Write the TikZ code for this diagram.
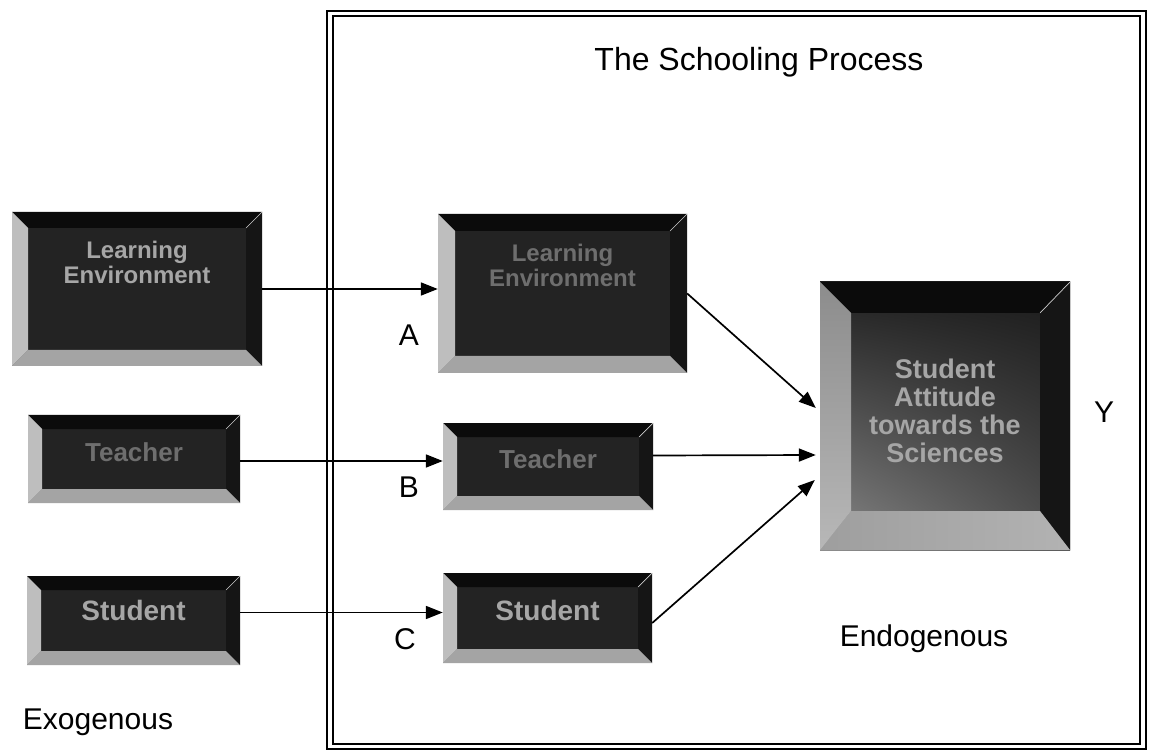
\documentclass[tikz,border=0pt]{standalone}
\usepackage{fontspec}
\setmainfont{Liberation Sans}
\usetikzlibrary{calc,arrows.meta,fit,shadings}
\definecolor{bevtop}{HTML}{0B0B0B}
\definecolor{bevright}{HTML}{151515}
\definecolor{bevleft}{HTML}{BEBEBE}
\definecolor{bevbot}{HTML}{A4A4A4}
\definecolor{bevface}{HTML}{232323}
\definecolor{boxtext}{HTML}{A6A6A6}
\definecolor{dimtext}{HTML}{6E6E6E}

\tikzset{
  lbl/.style={font=\fontsize{30}{33}\selectfont, inner sep=0pt},
  boxtxt/.style={font=\bfseries\fontsize{24}{25}\selectfont, text=boxtext, align=center, inner sep=0pt},
  conn/.style={line width=1.7pt, -{Triangle[length=17pt,width=13pt]}},
  frameline/.style={line width=1.8pt},
}

% #1 name, #2 x1, #3 y1, #4 x2, #5 y2, #6 bevel, #7 text, #8 text options, #9 text offset (down)
\newcommand{\bevbox}[9]{%
  \fill[bevface] (#2,#3) rectangle (#4,#5);
  \fill[bevtop] (#2,#3) -- (#4,#3) -- ({#4-#6},{#3+#6}) -- ({#2+#6},{#3+#6}) -- cycle;
  \fill[bevright] (#4,#3) -- (#4,#5) -- ({#4-#6},{#5-#6}) -- ({#4-#6},{#3+#6}) -- cycle;
  \fill[bevbot] (#2,#5) -- (#4,#5) -- ({#4-#6},{#5-#6}) -- ({#2+#6},{#5-#6}) -- cycle;
  \fill[bevleft] (#2,#3) -- ({#2+#6},{#3+#6}) -- ({#2+#6},{#5-#6}) -- (#2,#5) -- cycle;
  \draw[gray!40, line width=0.7pt] (#4,#3) -- ({#4-#6},{#3+#6});
  \coordinate (#1-a) at (#2,#3);
  \coordinate (#1-b) at (#4,#5);
  \node[fit=(#1-a)(#1-b), inner sep=0pt] (#1) {};
  \node[boxtxt, #8] (#1-t) at ($(#1.center)+(0,#9)$) {#7};
}

\begin{document}
\begin{tikzpicture}[x=1pt,y=-1pt]
\useasboundingbox (0,0) rectangle (1152,751);
\fill[white] (0,0) rectangle (1152,751);

% frame
\draw[frameline] (327,11) rectangle (1146,749);
\draw[frameline] (333,16) rectangle (1140,744);

% exogenous boxes
\bevbox{exoLE}{12}{212}{262}{366}{16}{Learning\\Environment}{}{-27}
\bevbox{exoT}{28}{415}{240}{503}{14}{Teacher}{text=dimtext, font=\bfseries\fontsize{26}{28}\selectfont}{-7}
\bevbox{exoS}{27}{576}{240}{665}{14}{Student}{font=\bfseries\fontsize{28}{30}\selectfont}{-10}

% inner boxes
\bevbox{inLE}{438}{214}{687}{373}{17}{Learning\\Environment}{text=dimtext}{-28}
\bevbox{inT}{443}{423}{653}{510}{14}{Teacher}{text=dimtext, font=\bfseries\fontsize{26}{28}\selectfont}{-7}
\bevbox{inS}{443}{573}{652}{663}{14}{Student}{font=\bfseries\fontsize{28}{30}\selectfont}{-8}

% big box
\shade[upper left=black!88, upper right=black!90, lower left=black!45, lower right=black!70] (820,282) rectangle (1070,550);
\fill[bevtop] (820,282) -- (1070,282) -- (1040,313) -- (851,313) -- cycle;
\fill[bevright] (1070,282) -- (1070,550) -- (1040,511) -- (1040,313) -- cycle;
\shade[left color=black!38, right color=black!30] (820,550) -- (1070,550) -- (1040,511) -- (851,511) -- cycle;
\shade[top color=black!45, bottom color=black!28] (820,282) -- (851,313) -- (851,511) -- (820,550) -- cycle;
\draw[gray!40, line width=0.7pt] (1070,282) -- (1040,313);
\coordinate (big-a) at (820,282);
\coordinate (big-b) at (1070,550);
\node[fit=(big-a)(big-b), inner sep=0pt] (big) {};
\node[boxtxt, font=\bfseries\fontsize{27}{28}\selectfont] (big-t) at ($(big.center)+(0,-5)$) {Student\\Attitude\\towards the\\Sciences};

% labels
\node[lbl, font=\fontsize{32}{35}\selectfont] (title) at (759,62) {The Schooling Process};
\node[lbl] (lA) at (409,335) {A};
\node[lbl] (lB) at (409,487) {B};
\node[lbl] (lC) at (405,639) {C};
\node[lbl] (lY) at (1104,412) {Y};
\node[lbl] (endo) at (924,639) {Endogenous};
\node[lbl] (exo) at (98,722) {Exogenous};

% connectors
\draw[conn] (exoLE.east) -- (exoLE.east -| inLE.west);
\draw[conn] ([yshift=-2pt]exoT.east) -- ([yshift=-2pt]exoT.east -| inT.west);
\draw[conn] ([yshift=8pt]exoS.east) -- ([yshift=8pt]exoS.east -| inS.west);
\draw[conn] (inLE.east) -- ($(big.west)+(-4,-8)$);
\draw[conn] ($(inT.east)+(0,-11)$) -- ($(big.west)+(-4,39)$);
\draw[conn] ($(inS.east)+(0,5)$) -- ($(big.west)+(-5,64)$);
\end{tikzpicture}
\end{document}
